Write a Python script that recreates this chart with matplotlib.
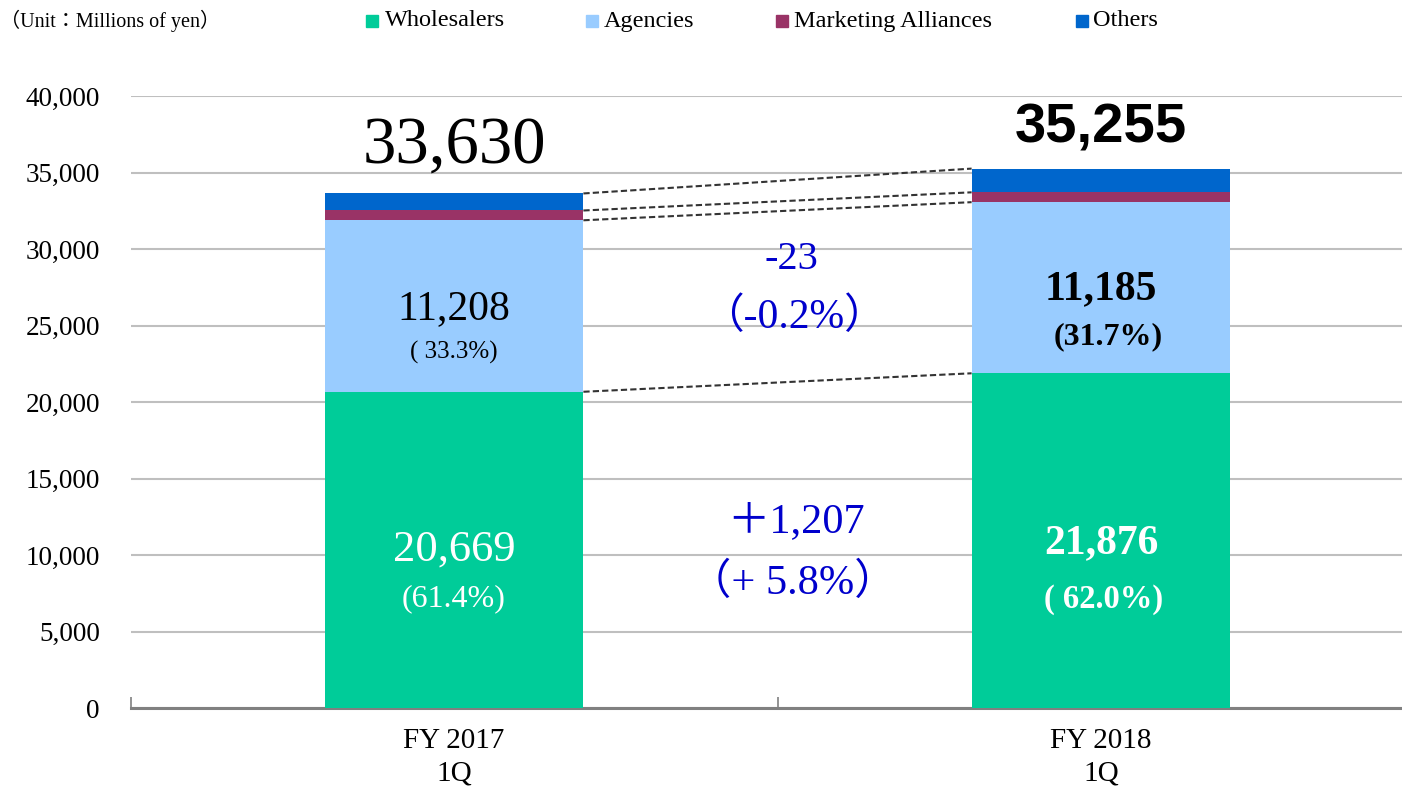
import matplotlib
matplotlib.use("Agg")
import matplotlib.pyplot as plt
from matplotlib.patches import Rectangle
import numpy as np

categories = ["FY 2017\n1Q", "FY 2018\n1Q"]
series_names = ["Wholesalers", "Agencies", "Marketing Alliances", "Others"]
wholesalers = [20669, 21876]
agencies = [11208, 11185]
marketing = [640, 644]
others = [1113, 1550]
totals = [33630, 35255]
share_whole = ["(61.4%)", "( 62.0%)"]
share_agen = ["( 33.3%)", "(31.7%)"]
diff_whole = ["＋1,207", "（+ 5.8%）"]
diff_agen = ["-23", "（-0.2%）"]
colors = ["#00CC99", "#99CCFF", "#993366", "#0066CC"]
yticks = np.arange(0, 40001, 5000)

serif = ["Liberation Serif", "Noto Sans CJK JP", "DejaVu Serif"]
plt.rcParams["font.family"] = serif

fig = plt.figure(figsize=(14.02, 7.92), dpi=100)
W, H = 1402, 792
ax = fig.add_axes([130.5 / W, 1 - 708 / H, 1294 / W, 612 / H])
x = np.arange(len(categories))
bw = 0.4
series = [wholesalers, agencies, marketing, others]
bottom = np.zeros(len(categories))
tops = []
for vals, c in zip(series, colors):
    ax.bar(x, vals, bw, bottom=bottom, color=c, zorder=3, linewidth=0)
    bottom = bottom + np.array(vals)
    tops.append(bottom.copy())

ax.set_xlim(-0.5, 1.5)
ax.set_ylim(0, 40000)
ax.set_yticks(yticks)
ax.set_yticklabels([f"{v:,}" for v in yticks], fontsize=19.5)
ax.yaxis.grid(True, color="#BFBFBF", linewidth=1.5, zorder=0)
ax.set_axisbelow(True)
for s in ["top", "right", "left"]:
    ax.spines[s].set_visible(False)
ax.spines["bottom"].set_color("#808080")
ax.spines["bottom"].set_linewidth(2.2)
ax.tick_params(axis="y", length=0, pad=22)
ax.set_xticks([-0.5, 0.5, 1.5])
ax.set_xticklabels([])
ax.tick_params(axis="x", length=8, color="#808080", width=1.2, direction="in")
for xi, lab in zip(x, categories):
    ax.text(xi, -1300, lab, ha="center", va="top", fontsize=21, linespacing=1.32)

# dashed connectors
for t in tops:
    ax.plot([x[0] + bw / 2, x[1] - bw / 2], [t[0], t[1]], ls=(0, (3, 1.5)),
            color="#333333", lw=1.5, zorder=4)

# totals
ax.text(x[0], totals[0] + 2050, f"{totals[0]:,}", ha="center", va="baseline",
        fontsize=48, color="black")
ax.text(x[1], totals[1] + 1680, f"{totals[1]:,}", ha="center", va="baseline",
        fontsize=40.5, fontweight="bold", family=["Liberation Sans"], color="black")

# segment labels
ax.text(x[0], 26100, f"{agencies[0]:,}", ha="center", va="center", fontsize=30)
ax.text(x[0], 23268, share_agen[0], ha="center", va="center", fontsize=18)
ax.text(x[1], 27386, f"{agencies[1]:,}", ha="center", va="center", fontsize=30, fontweight="bold")
ax.text(x[1] + 0.011, 24249, share_agen[1], ha="center", va="center", fontsize=23, fontweight="bold")
ax.text(x[0], 10327, f"{wholesalers[0]:,}", ha="center", va="center", fontsize=32, color="white")
ax.text(x[0], 7150, share_whole[0], ha="center", va="center", fontsize=23, color="white")
ax.text(x[1], 10784, f"{wholesalers[1]:,}", ha="center", va="center", fontsize=30,
        fontweight="bold", color="white")
ax.text(x[1] + 0.004, 7059, share_whole[1], ha="center", va="center", fontsize=23.5,
        fontweight="bold", color="white")

# differences
blue = "#0000CC"
ax.text(0.522, 29300, diff_agen[0], ha="center", va="center", fontsize=29, color=blue)
ax.text(0.525, 25523, diff_agen[1], ha="center", va="center", fontsize=30, color=blue)
ax.text(0.528, 12157, diff_whole[0], ha="center", va="center", fontsize=30.5, color=blue)
ax.text(0.524, 8203, diff_whole[1], ha="center", va="center", fontsize=30.5, color=blue)

# header / legend
fig.text(0 / W, 1 - 21 / H, "（Unit：Millions of yen）", ha="left", va="center", fontsize=14.5)
leg_sq = [366, 586, 776, 1076]
leg_tx = [385, 604, 794, 1093]
for sx, tx, name, c in zip(leg_sq, leg_tx, series_names, colors):
    fig.patches.append(Rectangle((sx / W, 1 - 27 / H), 12 / W, 12 / H,
                                 transform=fig.transFigure, color=c))
    fig.text(tx / W, 1 - 21 / H, name, ha="left", va="center", fontsize=17.5)

fig.savefig("out.png", dpi=100)
